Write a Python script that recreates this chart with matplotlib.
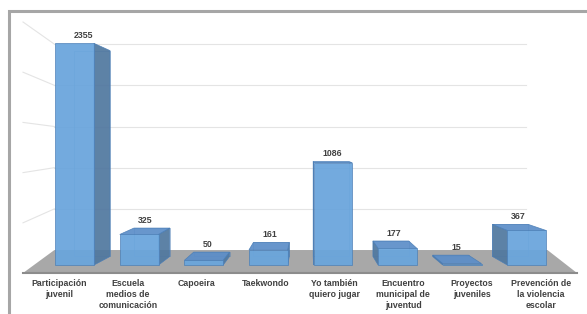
import numpy as np
import matplotlib.pyplot as plt
from matplotlib.patches import Polygon, Rectangle

# data
categorias = ['Participación\njuvenil', 'Escuela\nmedios de\ncomunicación', 'Capoeira',
              'Taekwondo', 'Yo también\nquiero jugar', 'Encuentro\nmunicipal de\njuventud',
              'Proyectos\njuveniles', 'Prevención de\nla violencia\nescolar']
valores = [2355, 325, 50, 161, 1086, 177, 15, 367]
grid_vals = [500, 1000, 1500, 2000, 2500]

# fake 3D view (vanishing point + depth scaling)
vx, vy = 3.62, 1273
z_knots = [-0.4, 0.0, 0.347, 0.72, 1.0]
sx_knots = [1.033, 1.0, 0.97, 0.897, 0.89]
z_front, z_back = 0.347, 0.72
half_w = 0.3
floor_l, floor_r = -0.665, 7.653
wall_r = 7.29

def sx(z):
    return np.interp(z, z_knots, sx_knots)

def sy(z):
    return 1 - 0.18 * z

def P(x, v, z):
    return (vx + (x - vx) * sx(z), vy + (v - vy) * sy(z))

c_front = '#6aa5dc'
c_top = '#5b8dc8'
c_side = '#4f779f'
c_edge = '#4a7db5'
txt = '#404040'
font = 'Liberation Sans'

fig = plt.figure(figsize=(5.87, 3.14), dpi=100)
ax = fig.add_axes([0, 0, 1, 1])
ax.set_xlim(-1.0105, 7.803)
ax.set_ylim(-408, 2719)
ax.axis('off')

# chart border
fig.patches.append(Rectangle((9, -30), 620, 314 - 11 + 30, transform=None,
                             fill=False, edgecolor='#a6a6a6', lw=2.2))

# walls gridlines
for g in grid_vals:
    a, b = P(floor_l, g, 1), P(wall_r, g, 1)
    ax.plot([a[0], b[0]], [a[1], b[1]], color='#e4e4e4', lw=0.8, zorder=1)
    c = P(floor_l, g, 0)
    ax.plot([c[0], a[0]], [c[1], a[1]], color='#e4e4e4', lw=0.8, zorder=1)

# floor
floor = [P(floor_l, 0, 0), P(floor_r, 0, 0), P(floor_r, 0, 1), P(floor_l, 0, 1)]
ax.add_patch(Polygon(floor, closed=True, facecolor='#a8a8a8', edgecolor='none', zorder=2))
f0, f1 = P(floor_l, 0, 0), P(floor_r, 0, 0)
ax.plot([f0[0], f1[0]], [f0[1], f1[1]], color='#8c8c8c', lw=1.5, zorder=2)

# bars
for i, v in enumerate(valores):
    x0, x1 = i - half_w, i + half_w

    def face(pts, col, zo, a=0.92):
        ax.add_patch(Polygon([P(*p) for p in pts], closed=True, facecolor=col,
                             edgecolor=c_edge, lw=0.5, alpha=a, zorder=zo))

    back = [(x0, 0, z_back), (x1, 0, z_back), (x1, v, z_back), (x0, v, z_back)]
    front = [(x0, 0, z_front), (x1, 0, z_front), (x1, v, z_front), (x0, v, z_front)]
    top = [(x0, v, z_front), (x1, v, z_front), (x1, v, z_back), (x0, v, z_back)]
    left = [(x0, 0, z_front), (x0, 0, z_back), (x0, v, z_back), (x0, v, z_front)]
    right = [(x1, 0, z_front), (x1, 0, z_back), (x1, v, z_back), (x1, v, z_front)]

    face(back, 'none', 3, 0.6)
    if P(x1, 0, z_front)[0] < vx:
        face(right, c_side, 4)
    if P(x0, 0, z_front)[0] > vx:
        face(left, c_side, 4)
    if v < vy:
        face(top, c_top, 5)
    face(front, c_front, 6, 0.94)

    # value label
    ytop = max(P(i, v, z_front)[1], P(i, v, z_back)[1])
    xl = P(i, v, (z_front + z_back) / 2)[0]
    ax.annotate(str(v), (xl, ytop), xytext=(0, 2.5), textcoords='offset points',
                ha='center', va='bottom', fontsize=6.3, fontweight='bold',
                color=txt, family=font, zorder=8)

    # category label
    ax.annotate(categorias[i], (P(i, 0, -0.4)[0], 0), xytext=(0, -4.5),
                textcoords='offset points', ha='center', va='top',
                multialignment='center', fontsize=6.3, fontweight='bold',
                color=txt, family=font, linespacing=1.3)

plt.savefig('out.png', dpi=100)
